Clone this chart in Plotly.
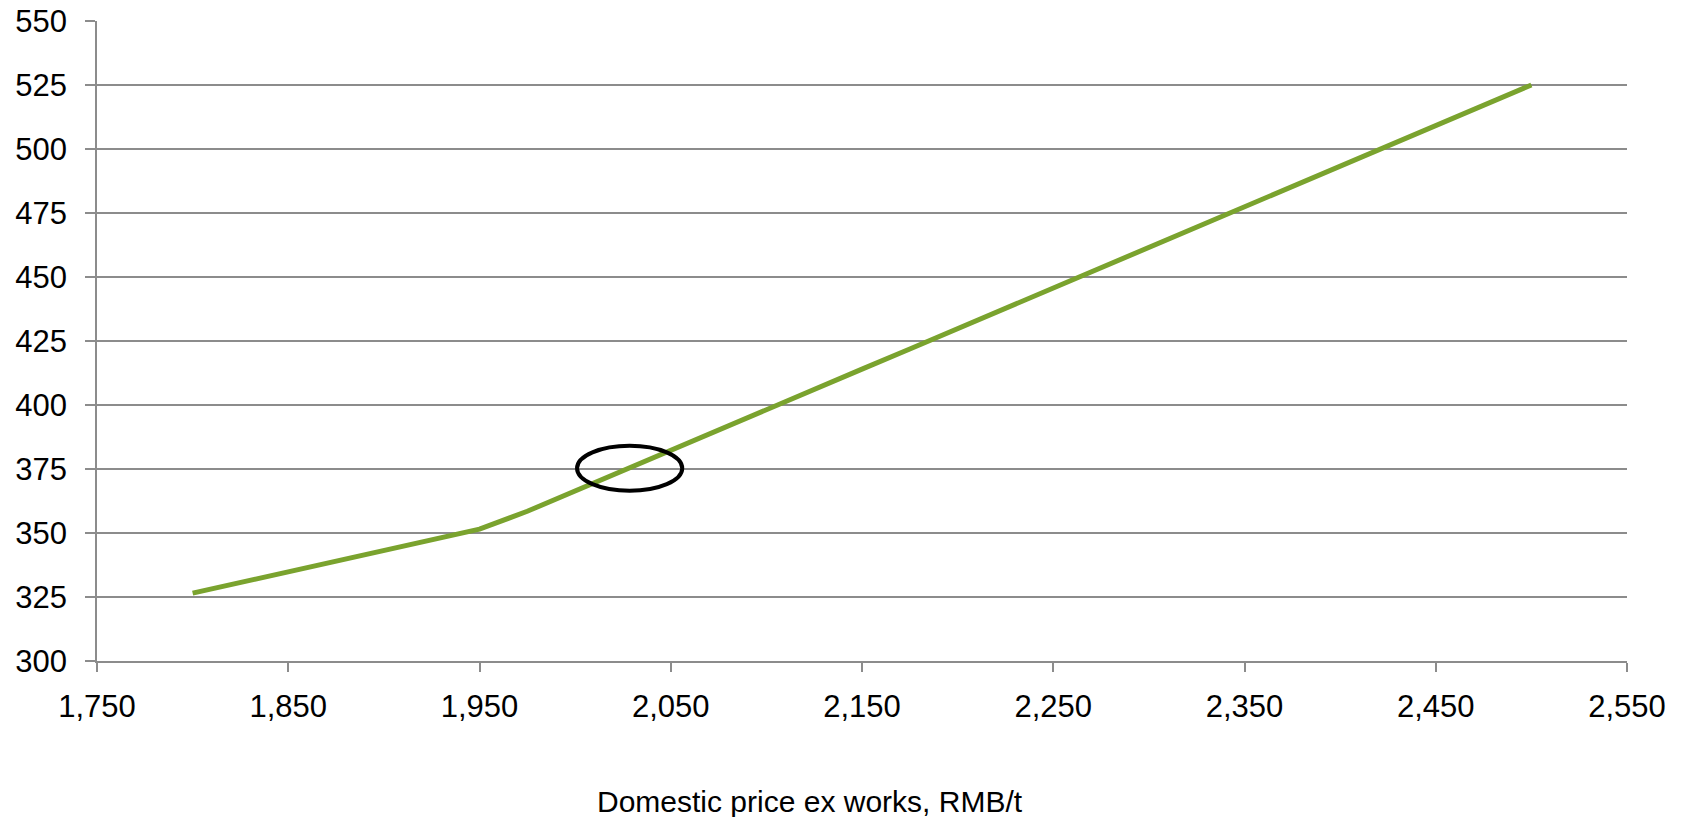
import plotly.graph_objects as go

# Domestic ex-works price (RMB/t) and the corresponding value on the y axis
price_rmb = [1800, 1825, 1850, 1875, 1900, 1925, 1950, 1975, 2000, 2025,
             2050, 2075, 2100, 2125, 2150, 2175, 2200, 2225, 2250, 2275,
             2300, 2325, 2350, 2375, 2400, 2425, 2450, 2475, 2500]
value = [326.5, 330.6, 334.8, 339.0, 343.1, 347.3, 351.5, 358.5, 366.5, 374.4,
         382.3, 390.3, 398.3, 406.2, 414.0, 421.9, 429.8, 437.8, 445.7, 453.7,
         461.6, 469.6, 477.5, 485.5, 493.4, 501.3, 509.2, 517.1, 525.0]

# Highlighted operating point (ellipse bounds in data units)
mark_x = [2001, 2056]
mark_y = [366.5, 384.1]

x_title = "Domestic price ex works, RMB/t"

GRID = "#8c8c8c"
FONT = "Liberation Sans, Arial, sans-serif"

fig = go.Figure()
fig.add_trace(go.Scatter(
    x=price_rmb, y=value, mode="lines",
    line=dict(color="#7aa32e", width=5),
    hoverinfo="skip", showlegend=False,
))

fig.add_shape(
    type="circle", xref="x", yref="y",
    x0=mark_x[0], x1=mark_x[1], y0=mark_y[0], y1=mark_y[1],
    line=dict(color="black", width=4), fillcolor="rgba(0,0,0,0)",
)

fig.add_annotation(
    text=x_title, xref="paper", yref="paper",
    x=0.466, y=-0.219, xanchor="center", yanchor="middle",
    showarrow=False, font=dict(family=FONT, size=30, color="black"),
)

fig.update_xaxes(
    range=[1750, 2550], dtick=100, tick0=1750, tickformat=",",
    showgrid=False, zeroline=False, automargin=False,
    showline=True, linecolor=GRID, linewidth=1.5,
    ticks="outside", ticklen=9, tickcolor=GRID, tickwidth=1.5,
    ticklabelstandoff=8,
    tickfont=dict(family=FONT, size=31, color="black"),
)
fig.update_yaxes(
    range=[300, 550], dtick=25, tick0=300,
    showgrid=True, gridcolor=GRID, gridwidth=1.5, zeroline=False,
    automargin=False,
    showline=True, linecolor=GRID, linewidth=1.5,
    ticks="outside", ticklen=10, tickcolor=GRID, tickwidth=1.5,
    ticklabelstandoff=12,
    tickfont=dict(family=FONT, size=31, color="black"),
)

fig.update_layout(
    width=1686, height=817,
    margin=dict(l=97, r=59, t=21, b=156),
    paper_bgcolor="white", plot_bgcolor="white",
)

fig.write_html("out.html")
